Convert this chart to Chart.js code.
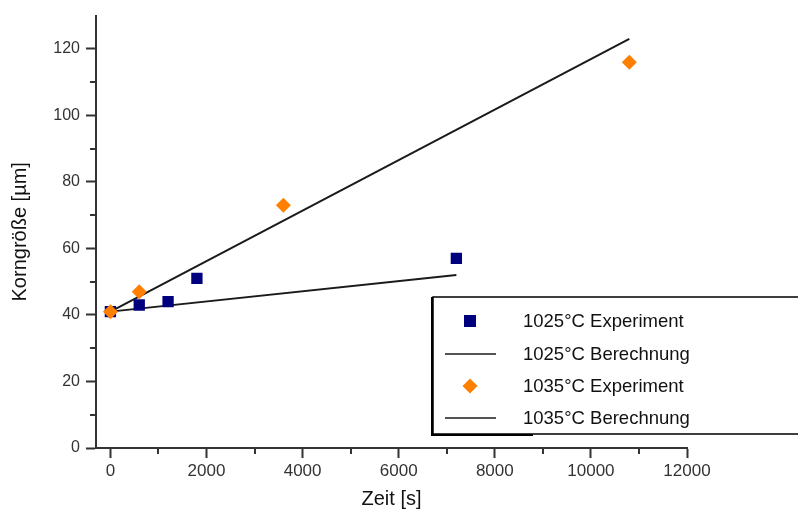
<!DOCTYPE html>
<html>
<head>
<meta charset="utf-8">
<script src="https://cdn.jsdelivr.net/npm/chart.js@4/dist/chart.umd.min.js"></script>
<style>
  html, body { margin: 0; padding: 0; background: #fff; }
  #wrap { width: 798px; height: 511px; }
</style>
</head>
<body>
<div id="wrap"><canvas id="chart" width="798" height="511"></canvas></div>
<script>
// Measured values (Zeit in s, Korngröße in µm)
var exp1025Time = [0, 600, 1200, 1800, 7200];
var exp1025Size = [41, 43, 44, 51, 57];
var exp1035Time = [0, 600, 3600, 10800];
var exp1035Size = [41, 47, 73, 116];

// Calculated lines (start / end)
var calc1025Time = [0, 7200];
var calc1025Size = [41, 52];
var calc1035Time = [0, 10800];
var calc1035Size = [41, 123];

var xMajorTicks = [0, 2000, 4000, 6000, 8000, 10000, 12000];
var xMinorTicks = [1000, 3000, 5000, 7000, 9000, 11000];
var yMajorTicks = [0, 20, 40, 60, 80, 100, 120];
var yMinorTicks = [10, 30, 50, 70, 90, 110];

var seriesLabels = ['1025°C Experiment', '1025°C Berechnung', '1035°C Experiment', '1035°C Berechnung'];

function toPoints(xs, ys) {
    var pts = [];
    for (let i = 0; i < xs.length; i++) pts.push({x: xs[i], y: ys[i]});
    return pts;
}

var FONT = "'Liberation Sans', Arial, sans-serif";
var AXIS = '#333333';

// draws the short minor ticks on both axes
var minorTicks = {
    id: 'minorTicks',
    afterDraw: function(chart) {
        var ctx = chart.ctx;
        var xs = chart.scales.x, ys = chart.scales.y;
        ctx.save();
        ctx.strokeStyle = AXIS;
        ctx.lineWidth = 2;
        ctx.beginPath();
        xMinorTicks.forEach(function(v) {
            var px = Math.round(xs.getPixelForValue(v));
            ctx.moveTo(px, ys.bottom);
            ctx.lineTo(px, ys.bottom + 6);
        });
        yMinorTicks.forEach(function(v) {
            var py = Math.round(ys.getPixelForValue(v));
            ctx.moveTo(xs.left, py);
            ctx.lineTo(xs.left - 6, py);
        });
        ctx.stroke();
        ctx.restore();
    }
};

// boxed legend in the lower right, partly running off the canvas
var boxLegend = {
    id: 'boxLegend',
    afterDraw: function(chart) {
        var ctx = chart.ctx;
        var bx = 433, by = 297, bw = 420, bh = 137;
        ctx.save();
        ctx.fillStyle = '#fff';
        ctx.fillRect(bx, by, bw, bh);
        ctx.strokeStyle = '#000';
        ctx.lineWidth = 1.5;
        ctx.strokeRect(bx, by, bw, bh);
        ctx.lineWidth = 2;
        ctx.beginPath();
        ctx.moveTo(bx - 1, by); ctx.lineTo(bx - 1, by + bh + 1); ctx.lineTo(bx + 100, by + bh + 1);
        ctx.stroke();

        var rows = [321, 354, 386, 418];
        var ds = chart.data.datasets;
        ctx.font = '18.5px ' + FONT;
        ctx.textBaseline = 'middle';
        ctx.textAlign = 'left';
        for (let i = 0; i < ds.length; i++) {
            let y = rows[i];
            if (ds[i].showLine) {
                ctx.strokeStyle = ds[i].borderColor;
                ctx.lineWidth = 1.5;
                ctx.beginPath();
                ctx.moveTo(445, y); ctx.lineTo(496, y);
                ctx.stroke();
            } else if (ds[i].pointStyle === 'rect') {
                ctx.fillStyle = ds[i].backgroundColor;
                ctx.fillRect(464, y - 6, 12, 12);
            } else {
                ctx.fillStyle = ds[i].backgroundColor;
                ctx.beginPath();
                ctx.moveTo(470, y - 7.5); ctx.lineTo(477.5, y);
                ctx.lineTo(470, y + 7.5); ctx.lineTo(462.5, y);
                ctx.closePath();
                ctx.fill();
            }
            ctx.fillStyle = '#111';
            ctx.fillText(ds[i].label, 523, y + 1);
        }
        ctx.restore();
    }
};

new Chart(document.getElementById('chart'), {
    type: 'scatter',
    data: {
        datasets: [
            {label: seriesLabels[0], data: toPoints(exp1025Time, exp1025Size), pointStyle: 'rect',
             pointRadius: 8, pointHoverRadius: 8, backgroundColor: '#00007f', borderColor: '#00007f', borderWidth: 0, order: 1},
            {label: seriesLabels[1], type: 'line', showLine: true, data: toPoints(calc1025Time, calc1025Size),
             borderColor: '#1a1a1a', borderWidth: 2, pointRadius: 0, fill: false, order: 3},
            {label: seriesLabels[2], data: toPoints(exp1035Time, exp1035Size), pointStyle: 'rectRot',
             pointRadius: 7.5, pointHoverRadius: 7.5, backgroundColor: '#ff8000', borderColor: '#ff8000', borderWidth: 0, order: 0},
            {label: seriesLabels[3], type: 'line', showLine: true, data: toPoints(calc1035Time, calc1035Size),
             borderColor: '#1a1a1a', borderWidth: 2, pointRadius: 0, fill: false, order: 2}
        ]
    },
    options: {
        responsive: false,
        animation: false,
        layout: {padding: {left: 0, right: 111, top: 14, bottom: 0}},
        plugins: {legend: {display: false}, tooltip: {enabled: false}},
        scales: {
            x: {
                type: 'linear', min: -300, max: 12000,
                afterBuildTicks: function(s) { s.ticks = xMajorTicks.map(function(v) { return {value: v}; }); },
                afterFit: function(s) { s.height = 63; },
                grid: {drawOnChartArea: false, drawTicks: true, tickLength: 10, tickColor: AXIS, tickWidth: 2},
                border: {display: true, color: AXIS, width: 2},
                ticks: {color: '#333', padding: 3, font: {family: FONT, size: 17}, maxRotation: 0,
                        callback: function(v) { return String(v); }},
                title: {display: true, text: 'Zeit [s]', color: '#111', font: {family: FONT, size: 20}, padding: {top: 2, bottom: 0}}
            },
            y: {
                type: 'linear', min: 0, max: 130,
                afterBuildTicks: function(s) { s.ticks = yMajorTicks.map(function(v) { return {value: v}; }); },
                afterFit: function(s) { s.width = 96; },
                grid: {drawOnChartArea: false, drawTicks: true, tickLength: 10, tickColor: AXIS, tickWidth: 2},
                border: {display: true, color: AXIS, width: 2},
                ticks: {color: '#333', padding: 6, font: {family: FONT, size: 16}, callback: function(v) { return String(v); }},
                title: {display: true, text: 'Korngröße [µm]', color: '#111', font: {family: FONT, size: 20}, padding: {top: 8, bottom: 0}}
            }
        }
    },
    plugins: [minorTicks, boxLegend]
});
</script>
</body>
</html>
